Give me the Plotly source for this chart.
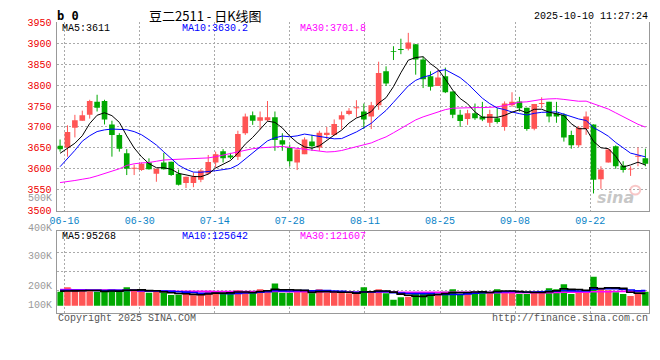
import plotly.graph_objects as go

W, H = 660, 360

# ---------------- data ----------------
tick_labels = ['06-16', '06-30', '07-14', '07-28', '08-11', '08-25', '09-08', '09-22']

opens = [3655, 3651, 3698, 3715, 3729, 3760, 3762, 3706, 3681, 3637,
         3600, 3597, 3615, 3588, 3615, 3617, 3588, 3566, 3566, 3574,
         3589, 3615, 3642, 3632, 3629, 3685, 3728, 3715, 3716, 3723,
         3668, 3651, 3615, 3635, 3665, 3651, 3681, 3681, 3718, 3731,
         3745, 3737, 3725, 3752, 3833, 3881, 3886, 3887, 3898, 3861,
         3821, 3798, 3821, 3785, 3729, 3719, 3733, 3725, 3710, 3721,
         3700, 3752, 3761, 3746, 3696, 3755, 3760, 3733, 3729, 3681,
         3656, 3695, 3706, 3575, 3615, 3654, 3608, 3598, 3629, 3625]
highs = [3670, 3704, 3729, 3739, 3765, 3777, 3765, 3715, 3685, 3647,
         3610, 3615, 3625, 3600, 3638, 3617, 3598, 3581, 3591, 3600,
         3633, 3641, 3647, 3638, 3691, 3732, 3737, 3737, 3762, 3737,
         3685, 3658, 3646, 3675, 3681, 3691, 3700, 3718, 3737, 3745,
         3764, 3756, 3760, 3856, 3845, 3893, 3911, 3925, 3898, 3868,
         3833, 3837, 3842, 3785, 3741, 3741, 3756, 3760, 3741, 3745,
         3761, 3783, 3772, 3746, 3755, 3771, 3760, 3760, 3733, 3691,
         3702, 3737, 3706, 3606, 3648, 3656, 3618, 3606, 3651, 3648]
lows = [3641, 3629, 3675, 3715, 3720, 3737, 3706, 3629, 3641, 3585,
        3585, 3595, 3598, 3569, 3598, 3583, 3560, 3554, 3556, 3568,
        3587, 3603, 3615, 3623, 3621, 3681, 3705, 3694, 3714, 3643,
        3643, 3606, 3597, 3635, 3643, 3643, 3671, 3679, 3694, 3728,
        3723, 3695, 3695, 3741, 3798, 3860, 3874, 3883, 3825, 3793,
        3787, 3798, 3781, 3721, 3700, 3705, 3717, 3714, 3700, 3708,
        3691, 3748, 3737, 3691, 3692, 3745, 3711, 3710, 3665, 3648,
        3652, 3681, 3541, 3552, 3615, 3600, 3591, 3583, 3606, 3606]
closes = [3647, 3688, 3716, 3728, 3762, 3746, 3718, 3681, 3648, 3600,
          3602, 3612, 3599, 3600, 3599, 3585, 3562, 3581, 3581, 3596,
          3616, 3635, 3625, 3627, 3683, 3725, 3715, 3723, 3723, 3669,
          3658, 3618, 3646, 3670, 3654, 3686, 3686, 3707, 3728, 3739,
          3747, 3718, 3752, 3829, 3804, 3879, 3884, 3902, 3861, 3814,
          3796, 3818, 3783, 3729, 3714, 3733, 3721, 3718, 3731, 3712,
          3756, 3760, 3745, 3695, 3755, 3757, 3725, 3725, 3675, 3656,
          3698, 3725, 3574, 3598, 3646, 3606, 3597, 3599, 3631, 3612]
volumes = [114, 152, 122, 122, 118, 114, 114, 136, 118, 152,
           122, 122, 106, 114, 106, 88, 90, 96, 86, 90,
           122, 122, 96, 96, 128, 120, 106, 136, 128, 184,
           106, 106, 120, 114, 102, 136, 106, 106, 106, 102,
           96, 152, 120, 136, 102, 48, 70, 74, 96, 96,
           96, 96, 114, 136, 96, 102, 114, 120, 114, 136,
           120, 114, 96, 96, 120, 120, 144, 136, 176, 96,
           114, 114, 240, 142, 128, 110, 96, 80, 102, 114]  # thousand lots

# moving-average values for the first candles (their windows start before the chart)
ma5_lead = [3637, 3648, 3661, 3679]
ma10_lead = [3605, 3624, 3644, 3666, 3679, 3689, 3693, 3695, 3695]
ma30_lead = [3567, 3569, 3572, 3575, 3578, 3583, 3589, 3595, 3600, 3608,
             3612, 3614, 3615, 3618, 3621, 3622, 3623, 3624, 3625, 3625,
             3626, 3629, 3633, 3637, 3641, 3645, 3648, 3650, 3651]
vma5_lead = [120, 121, 122, 123]
vma10_lead = [127, 127, 126, 126, 127, 126, 125, 126, 126]
vma30_lead = [133, 133, 132, 132, 129, 128, 128, 128, 127, 127,
              126, 122, 121, 120, 120, 120, 119, 119, 118, 118,
              118, 117, 117, 116, 116, 116, 116, 117, 117]

ma_labels = ['MA5:3611', 'MA10:3630.2', 'MA30:3701.8']
vma_labels = ['MA5:95268', 'MA10:125642', 'MA30:121607']
vol_axis_labels = ['500K', '400K', '300K', '200K', '100K']
title_text = '豆二2511 - 日K线图'
time_text = '2025-10-10 11:27:24'

price_ticks = list(range(3500, 3951, 50))

# ---------------- helpers ----------------
def rolling(vals, n, lead):
    out = list(lead)
    for i in range(len(lead), len(vals)):
        out.append(sum(vals[i - n + 1:i + 1]) / n)
    return out

def fx(p):
    return p / W

def fy(p):
    return 1 - p / H

N = len(closes)
idx = list(range(N))
RED = '#FF5555'
GREEN = '#00A800'
colors = [RED if c >= o else GREEN for o, c in zip(opens, closes)]

vols = [v * 1000 for v in volumes]
ma5 = rolling(closes, 5, ma5_lead)
ma10 = rolling(closes, 10, ma10_lead)
ma30 = rolling(closes, 30, ma30_lead)
vma5 = rolling(vols, 5, [v * 1000 for v in vma5_lead])
vma10 = rolling(vols, 10, [v * 1000 for v in vma10_lead])
vma30 = rolling(vols, 30, [v * 1000 for v in vma30_lead])

# geometry (pixels)
LEFT, RIGHT = 50, 649
X0_PX, STEP_PX = 52.7, 7.5
xr = [(LEFT - X0_PX) / STEP_PX, (RIGHT - X0_PX) / STEP_PX]
grid_pos = [(57.3 - X0_PX + 76 * k) / STEP_PX for k in range(len(tick_labels))]

MAIN_TOP, MAIN_BOT = 18, 212.7
VOL_TOP, VOL_BOT, VOL_BASE = 234.3, 318.3, 311
VPX = 8000  # lots per pixel in volume panel
vol_range = [-(VOL_BOT - VOL_BASE) * VPX, (VOL_BASE - VOL_TOP) * VPX]
vol_grid = [(VOL_BASE - y) * VPX for y in (255.7, 275.7, 295.7)]

fig = go.Figure()

# wicks
for col in (RED, GREEN):
    wx, wy = [], []
    for i in idx:
        if colors[i] == col:
            wx += [i, i, None]
            wy += [lows[i], highs[i], None]
    fig.add_trace(go.Scatter(x=wx, y=wy, mode='lines', line=dict(color=col, width=1),
                             hoverinfo='skip', showlegend=False, xaxis='x', yaxis='y'))

# bodies
fig.add_trace(go.Bar(x=idx, base=[min(o, c) for o, c in zip(opens, closes)],
                     y=[max(abs(c - o), 2.3) for o, c in zip(opens, closes)],
                     width=0.76, marker=dict(color=colors, line=dict(width=0)),
                     hoverinfo='skip', showlegend=False, xaxis='x', yaxis='y'))

for vals, col in ((ma30, '#FF00FF'), (ma10, '#0000FF'), (ma5, '#000000')):
    fig.add_trace(go.Scatter(x=idx, y=vals, mode='lines', line=dict(color=col, width=1),
                             hoverinfo='skip', showlegend=False, xaxis='x', yaxis='y'))

# volume
fig.add_trace(go.Bar(x=idx, y=vols, width=0.87, marker=dict(color=colors, line=dict(width=0)),
                     hoverinfo='skip', showlegend=False, xaxis='x2', yaxis='y2'))
for vals, col in ((vma30, '#FF00FF'), (vma10, '#0000FF'), (vma5, '#000000')):
    fig.add_trace(go.Scatter(x=idx, y=vals, mode='lines', line=dict(color=col, width=1.6, shape='hvh'),
                             hoverinfo='skip', showlegend=False, xaxis='x2', yaxis='y2'))

MONO = 'Liberation Mono, DejaVu Sans Mono, monospace'
GRID = '#AAAAAA'
BORDER = '#999999'

ann = []
def label(text, x, y, color='#000000', size=10, anchor='left', family=MONO, bold=False):
    t = '<b>%s</b>' % text if bold else text
    ann.append(dict(text=t, x=fx(x), y=fy(y), xref='paper', yref='paper', xanchor=anchor,
                    yanchor='middle', showarrow=False, borderpad=0,
                    font=dict(family=family, size=size, color=color)))

label('b 0', 49, 11, size=12, bold=True, family='DejaVu Sans Mono')
label(title_text, 200, 11, size=13, anchor='center', family='Noto Sans CJK SC')
label(time_text, 649, 12, anchor='right')
for t, x, c in zip(ma_labels, (54, 175, 295), ('#000000', '#0000FF', '#FF00FF')):
    label(t, x, 24.5, color=c)
for t, x, c in zip(vma_labels, (54, 175, 295), ('#000000', '#0000FF', '#FF00FF')):
    label(t, x, 239.5, color=c)
for t, y in zip(vol_axis_labels, (200, 230.7, 260, 290.7, 311)):
    label(t, 46, y, color='#999999', anchor='right')
label('Copyright 2025 SINA.COM', 50, 324, color='#555555')
label('http://finance.sina.com.cn', 649, 324, color='#555555', anchor='right')
ann.append(dict(text='<b><i>sina</i></b>', x=fx(636), y=fy(199), xref='paper', yref='paper',
                showarrow=False, font=dict(family='DejaVu Sans', size=16, color='rgba(150,150,150,0.55)')))

shapes = [dict(type='circle', xref='paper', yref='paper', x0=fx(630), x1=fx(640), y0=fy(196), y1=fy(187),
               line=dict(color='rgba(240,130,130,0.45)', width=2), fillcolor='rgba(0,0,0,0)')]

fig.update_layout(
    width=W, height=H, autosize=False,
    margin=dict(l=0, r=0, t=0, b=0),
    paper_bgcolor='white', plot_bgcolor='white',
    barmode='overlay', showlegend=False,
    annotations=ann, shapes=shapes,
    xaxis=dict(domain=[fx(LEFT), fx(RIGHT)], range=xr, anchor='y',
               tickvals=grid_pos, ticktext=tick_labels, ticks='',
               tickfont=dict(family=MONO, size=10, color='#0A84C8'),
               showgrid=True, gridcolor=GRID, griddash='2px,2px', gridwidth=1,
               showline=True, linecolor=BORDER, linewidth=1, zeroline=False, fixedrange=True),
    yaxis=dict(domain=[fy(MAIN_BOT), fy(MAIN_TOP)], range=[3500, 3950], anchor='x',
               tickvals=price_ticks, ticks='', ticklabelstandoff=3,
               tickfont=dict(family=MONO, size=10, color='#EE0000'),
               showgrid=True, gridcolor=GRID, griddash='2px,2px', gridwidth=1,
               showline=True, mirror=True, linecolor=BORDER, linewidth=1, zeroline=False, fixedrange=True),
    xaxis2=dict(domain=[fx(LEFT), fx(RIGHT)], range=xr, anchor='y2',
                tickvals=grid_pos, showticklabels=False, ticks='',
                showgrid=True, gridcolor=GRID, griddash='2px,2px', gridwidth=1,
                showline=True, mirror=True, linecolor=BORDER, linewidth=1, zeroline=False, fixedrange=True),
    yaxis2=dict(domain=[fy(VOL_BOT), fy(VOL_TOP)], range=vol_range, anchor='x2',
                tickvals=vol_grid, showticklabels=False, ticks='',
                showgrid=True, gridcolor=GRID, griddash='2px,2px', gridwidth=1,
                showline=True, mirror=True, linecolor=BORDER, linewidth=1, zeroline=False, fixedrange=True),
)

fig.write_html('out.html', config={'displayModeBar': False, 'staticPlot': True},
               post_script="document.body.style.margin='0px';")
